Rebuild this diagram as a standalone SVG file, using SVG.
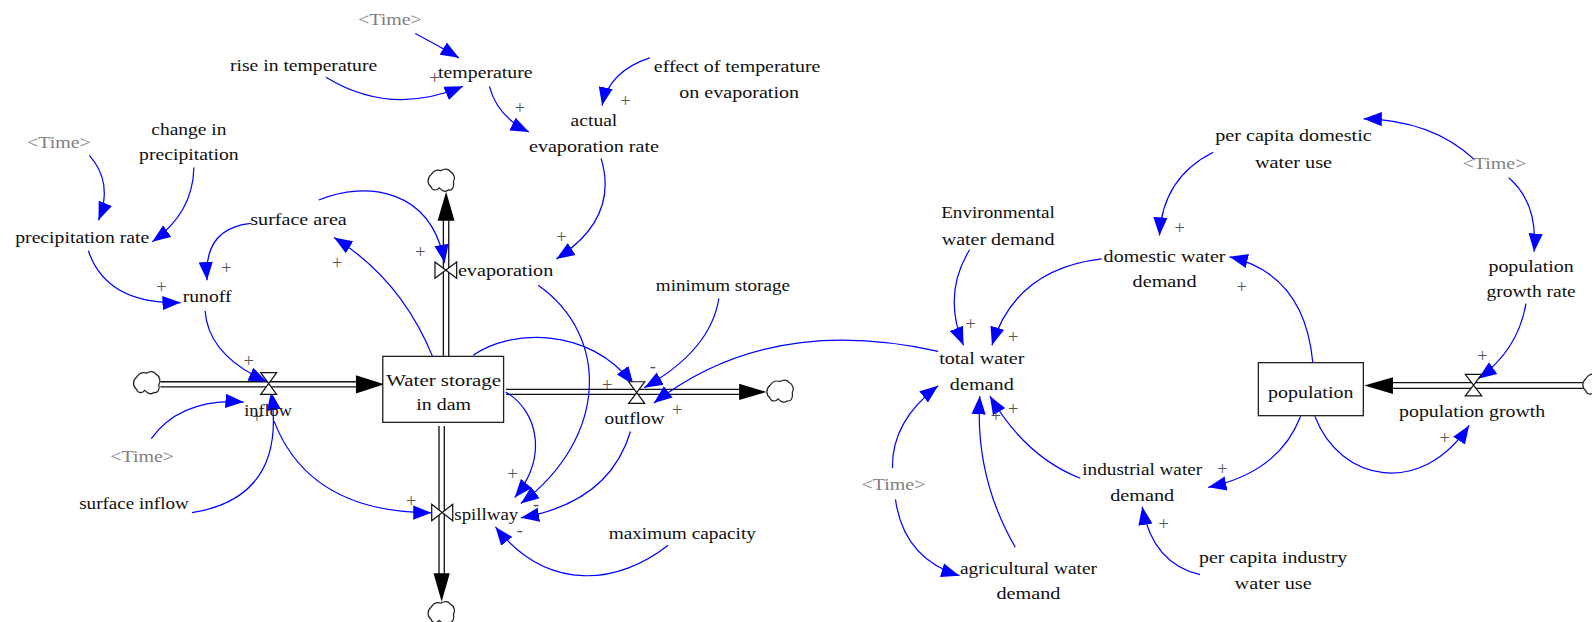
<svg xmlns="http://www.w3.org/2000/svg" xmlns:xlink="http://www.w3.org/1999/xlink" width="1592" height="622" viewBox="0 0 1592 622">
<style>
text{font-family:"Liberation Serif","Times New Roman",serif;font-size:17px;fill:#111;text-anchor:middle}
text.g{fill:#808080}
text.s{fill:#555;font-size:18px}
.c{fill:none;stroke:#0000ff;stroke-width:1.2;marker-end:url(#a)}
.p{stroke:#111;stroke-width:1.3;fill:none}
.h{fill:#000;stroke:none}
.v{fill:#fff;stroke:#111;stroke-width:1.2}
.b{fill:#fff;stroke:#222;stroke-width:1.3}
.k{fill:#fff;stroke:#222;stroke-width:1.2}
</style>
<defs>
<marker id="a" markerUnits="userSpaceOnUse" markerWidth="19" markerHeight="15" refX="18" refY="7.500" orient="auto"><path d="M0,0.5L18,7.500L0,14.500z" fill="#0000ff"/></marker>
<path id="cl" d="M-10,-6C-7,-11-3,-11 0,-10C3,-12 7,-12 9,-9C13,-7 14,-2 12,1C13,6 11,10 7,9C4,12 0,9-2,7C-4,10-9,10-10,6C-14,3-14,-3-10,-6z"/>
</defs>
<rect width="1592" height="622" fill="#fff"/>
<g transform="scale(1.0153)">
<g id="pipes">
<path class="p" d="M158,376H352M158,381H352"/><path class="h" d="M350.600,369.500L378.500,378.500L350.600,387.500z"/>
<path class="p" d="M436.700,351V217M442,351V217"/><path class="h" d="M431,217.400L439.400,188.800L447.700,217.400z"/>
<path class="p" d="M432.400,419.600V566M437.600,419.600V566"/><path class="h" d="M427,564.600L443,564.600L435,592.600z"/>
<path class="p" d="M498.400,383.500H730M498.400,388.400H730"/><path class="h" d="M728,378L755,386L728,394z"/>
<path class="p" d="M1370,376.900H1559M1370,382.500H1559"/><path class="h" d="M1343.800,379.700L1372,371.500L1372,388z"/>
</g>
<g id="connectors">
<path class="c" d="M409,33Q430,44 452,57"/>
<path class="c" d="M321,76Q385,115 456,85"/>
<path class="c" d="M482,85Q490,115 521,130"/>
<path class="c" d="M640,57Q600,70 593,104"/>
<path class="c" d="M592,156Q610,215 548,255"/>
<path class="c" d="M88,153Q112,180 97,217"/>
<path class="c" d="M191,165Q190,210 150,238"/>
<path class="c" d="M87,247Q105,300 178,298"/>
<path class="c" d="M247,220Q200,225 204,276"/>
<path class="c" d="M202,306Q205,350 263,376"/>
<path class="c" d="M149,432Q178,392 240,396"/>
<path class="c" d="M189,505Q283,490 267,386"/>
<path class="c" d="M270,415Q305,505 425,505"/>
<path class="c" d="M426,351Q395,275 329,234"/>
<path class="c" d="M314,197C360,178 425,185 438,259"/>
<path class="c" d="M466,350C500,325 580,320 624,379"/>
<path class="c" d="M708,294Q700,345 634.600,381.800"/>
<path class="c" d="M924,346C830,325 730,330 644,397"/>
<path class="c" d="M530,281C600,330 600,430 513,496"/>
<path class="c" d="M498,386C530,405 540,450 507,490"/>
<path class="c" d="M621,425Q600,495 513,510"/>
<path class="c" d="M658,537C610,575 540,585 488,519"/>
<path class="c" d="M1195,150Q1145,175 1142,232"/>
<path class="c" d="M1452,157Q1410,118 1343,117"/>
<path class="c" d="M1486,175Q1515,200 1511,248"/>
<path class="c" d="M1503,299Q1495,345 1456,373"/>
<path class="c" d="M1293,357Q1285,270 1211,253"/>
<path class="c" d="M1085,255Q1000,265 977,340"/>
<path class="c" d="M955,246Q928,290 949,340"/>
<path class="c" d="M1064,471Q1010,450 975,390"/>
<path class="c" d="M1000,539Q960,470 965,390"/>
<path class="c" d="M879,461Q878,415 924,380"/>
<path class="c" d="M882,492Q890,550 945,567"/>
<path class="c" d="M1281,410Q1260,465 1190,480"/>
<path class="c" d="M1295,410C1320,475 1400,490 1447,419"/>
<path class="c" d="M1182,566Q1135,555 1125,499"/>
</g>
<g id="signs">
<text class="s" x="428" y="83">+</text><text class="s" x="512" y="112">+</text><text class="s" x="616" y="105">+</text><text class="s" x="159" y="289">+</text><text class="s" x="223" y="270">+</text><text class="s" x="245" y="361">+</text><text class="s" x="253" y="417">+</text><text class="s" x="405" y="499">+</text><text class="s" x="332" y="265">+</text><text class="s" x="414" y="254">+</text><text class="s" x="553" y="239">+</text><text class="s" x="598" y="385">+</text><text class="s" x="667" y="410">+</text><text class="s" x="643" y="366">-</text><text class="s" x="505" y="473">+</text><text class="s" x="528" y="502">-</text><text class="s" x="512" y="528">-</text><text class="s" x="956" y="325">+</text><text class="s" x="998" y="338">+</text><text class="s" x="998" y="409">+</text><text class="s" x="981" y="416">+</text><text class="s" x="1223" y="289">+</text><text class="s" x="1162" y="230">+</text><text class="s" x="1204" y="468">+</text><text class="s" x="1146" y="522">+</text><text class="s" x="1423" y="437">+</text><text class="s" x="1460" y="357">+</text>
</g>
<g id="water-storage"><rect class="b" x="377" y="351" width="119" height="65"/><text x="437" y="380" textLength="113" lengthAdjust="spacingAndGlyphs">Water storage</text><text x="437" y="404" textLength="54" lengthAdjust="spacingAndGlyphs">in dam</text></g>
<g id="population"><rect class="b" x="1239.400" y="357.200" width="103.400" height="52.200"/><text x="1291" y="392" textLength="84" lengthAdjust="spacingAndGlyphs">population</text></g>
<g id="cloud-in"><use href="#cl" class="k" x="144.500" y="377.500"/></g>
<g id="cloud-evap"><use href="#cl" class="k" x="434.600" y="178"/></g>
<g id="cloud-spill"><use href="#cl" class="k" x="434.600" y="604"/></g>
<g id="cloud-out"><use href="#cl" class="k" x="768.300" y="385.800"/></g>
<g id="cloud-pop"><use href="#cl" class="k" x="1572" y="379"/></g>
<g id="inflow"><path class="v" d="M256.800,367H272.500L256.800,388.400H272.500z"/><text x="264" y="410" textLength="47" lengthAdjust="spacingAndGlyphs">inflow</text></g>
<g id="evaporation"><path class="v" d="M428.400,258V274L449.800,258V274z"/><text x="498" y="272" textLength="94" lengthAdjust="spacingAndGlyphs">evaporation</text></g>
<g id="spillway"><path class="v" d="M425.200,496.700V512.900L445.900,496.700V512.900z"/><text x="479" y="512" textLength="63" lengthAdjust="spacingAndGlyphs">spillway</text></g>
<g id="outflow"><path class="v" d="M619.200,376H635L619.200,397.300H635z"/><text x="625" y="418" textLength="59" lengthAdjust="spacingAndGlyphs">outflow</text></g>
<g id="population-growth"><path class="v" d="M1443.200,368.700H1459.400L1443.200,390H1459.400z"/><text x="1450" y="411" textLength="144" lengthAdjust="spacingAndGlyphs">population growth</text></g>
<g id="time-1"><text class="g" x="384" y="25" textLength="63" lengthAdjust="spacingAndGlyphs">&lt;Time&gt;</text></g>
<g id="temperature"><text x="478" y="77" textLength="93" lengthAdjust="spacingAndGlyphs">temperature</text></g>
<g id="rise-in-temperature"><text x="299" y="70" textLength="145" lengthAdjust="spacingAndGlyphs">rise in temperature</text></g>
<g id="effect"><text x="726" y="71" textLength="164" lengthAdjust="spacingAndGlyphs">effect of temperature</text><text x="728" y="97" textLength="118" lengthAdjust="spacingAndGlyphs">on evaporation</text></g>
<g id="actual-rate"><text x="585" y="124" textLength="46" lengthAdjust="spacingAndGlyphs">actual</text><text x="585" y="150" textLength="128" lengthAdjust="spacingAndGlyphs">evaporation rate</text></g>
<g id="time-2"><text class="g" x="58" y="146" textLength="63" lengthAdjust="spacingAndGlyphs">&lt;Time&gt;</text></g>
<g id="change-precip"><text x="186" y="133" textLength="74" lengthAdjust="spacingAndGlyphs">change in</text><text x="186" y="158" textLength="98" lengthAdjust="spacingAndGlyphs">precipitation</text></g>
<g id="precip-rate"><text x="81" y="239" textLength="132" lengthAdjust="spacingAndGlyphs">precipitation rate</text></g>
<g id="surface-area"><text x="294" y="222" textLength="95" lengthAdjust="spacingAndGlyphs">surface area</text></g>
<g id="runoff"><text x="204" y="297" textLength="48" lengthAdjust="spacingAndGlyphs">runoff</text></g>
<g id="minimum-storage"><text x="712" y="287" textLength="132" lengthAdjust="spacingAndGlyphs">minimum storage</text></g>
<g id="time-3"><text class="g" x="140" y="455" textLength="63" lengthAdjust="spacingAndGlyphs">&lt;Time&gt;</text></g>
<g id="surface-inflow"><text x="132" y="501" textLength="108" lengthAdjust="spacingAndGlyphs">surface inflow</text></g>
<g id="maximum-capacity"><text x="672" y="531" textLength="145" lengthAdjust="spacingAndGlyphs">maximum capacity</text></g>
<g id="per-capita-domestic"><text x="1274" y="139" textLength="154" lengthAdjust="spacingAndGlyphs">per capita domestic</text><text x="1274" y="165" textLength="76" lengthAdjust="spacingAndGlyphs">water use</text></g>
<g id="time-4"><text class="g" x="1472" y="166" textLength="63" lengthAdjust="spacingAndGlyphs">&lt;Time&gt;</text></g>
<g id="environmental"><text x="983" y="215" textLength="112" lengthAdjust="spacingAndGlyphs">Environmental</text><text x="983" y="241" textLength="111" lengthAdjust="spacingAndGlyphs">water demand</text></g>
<g id="domestic"><text x="1147" y="258" textLength="120" lengthAdjust="spacingAndGlyphs">domestic water</text><text x="1147" y="283" textLength="63" lengthAdjust="spacingAndGlyphs">demand</text></g>
<g id="growth-rate"><text x="1508" y="268" textLength="84" lengthAdjust="spacingAndGlyphs">population</text><text x="1508" y="293" textLength="88" lengthAdjust="spacingAndGlyphs">growth rate</text></g>
<g id="total"><text x="967" y="359" textLength="84" lengthAdjust="spacingAndGlyphs">total water</text><text x="967" y="384" textLength="63" lengthAdjust="spacingAndGlyphs">demand</text></g>
<g id="industrial"><text x="1125" y="468" textLength="118" lengthAdjust="spacingAndGlyphs">industrial water</text><text x="1125" y="493" textLength="63" lengthAdjust="spacingAndGlyphs">demand</text></g>
<g id="time-5"><text class="g" x="880" y="483" textLength="63" lengthAdjust="spacingAndGlyphs">&lt;Time&gt;</text></g>
<g id="agricultural"><text x="1013" y="565" textLength="135" lengthAdjust="spacingAndGlyphs">agricultural water</text><text x="1013" y="590" textLength="63" lengthAdjust="spacingAndGlyphs">demand</text></g>
<g id="per-capita-industry"><text x="1254" y="555" textLength="146" lengthAdjust="spacingAndGlyphs">per capita industry</text><text x="1254" y="580" textLength="76" lengthAdjust="spacingAndGlyphs">water use</text></g>
</g>
</svg>
